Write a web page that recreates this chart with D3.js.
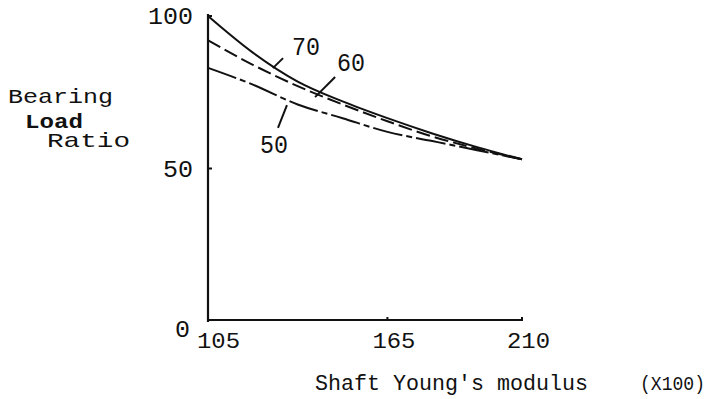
<!DOCTYPE html>
<html lang="en">
<head>
    <meta charset="UTF-8">
    <title>Bearing Load Ratio</title>
    <style>
        body { margin: 0; background: #fff; }
        svg text { font-family: "Liberation Mono", "DejaVu Sans Mono", monospace; fill: #111; }
    </style>
</head>
<body>
    <svg id="chart" width="716" height="399"></svg>

    <script src="https://d3js.org/d3.v7.min.js"></script>
    <script>
        // x values (Shaft Young's modulus, x100)
        const modulus = [105, 120, 135, 150, 165, 180, 195, 210];
        // bearing load ratio for each curve
        const ratio70 = [100, 88, 78.5, 72, 66.5, 61.5, 57, 53];
        const ratio60 = [92, 84, 77, 71, 65.5, 60.5, 56.5, 53];
        const ratio50 = [83, 77.5, 71, 66.5, 62, 59, 56, 53];

        const xTicks = [105, 165, 210];
        const yTicks = [0, 50, 100];

        const curveLabels = ["70", "60", "50"];
        // label anchor and leader line, in data units
        const labelPos = [[137.8, 90.2], [152.8, 84.9], [127.1, 58]];
        const leaderFrom = [[130.1, 86.2], [147.5, 80], [131.4, 70.8]];
        const leaderTo = [[126.7, 82.9], [140.8, 73.4], [128.4, 63.3]];

        const svg = d3.select("#chart");

        const x = d3.scaleLinear().domain([105, 210]).range([208, 522]);
        const y = d3.scaleLinear().domain([0, 100]).range([321, 16]);

        // axes
        svg.append("line")
            .attr("x1", x(105)).attr("x2", x(105))
            .attr("y1", y(100) - 2).attr("y2", y(0) + 1)
            .attr("stroke", "#111").attr("stroke-width", 2.2);

        svg.append("line")
            .attr("x1", x(105) - 1).attr("x2", x(210) + 1)
            .attr("y1", y(0) - 1).attr("y2", y(0) - 1)
            .attr("stroke", "#111").attr("stroke-width", 2.2);

        // y tick stubs and labels
        svg.selectAll(".ytick")
            .data(yTicks.filter(d => d > 0))
            .enter()
            .append("line")
            .attr("x1", x(105)).attr("x2", x(105) + 4)
            .attr("y1", d => y(d)).attr("y2", d => y(d))
            .attr("stroke", "#111").attr("stroke-width", 2);

        svg.selectAll(".ylab")
            .data(yTicks)
            .enter()
            .append("text")
            .attr("text-anchor", "end")
            .attr("x", d => d === 0 ? x(105) - 18 : x(105) - 15)
            .attr("y", d => d === 0 ? y(0) + 16 : y(d) + 8)
            .attr("font-size", 23)
            .attr("textLength", d => String(d).length * 15)
            .attr("lengthAdjust", "spacingAndGlyphs")
            .text(d => d);

        // x tick stubs and labels
        svg.selectAll(".xtick")
            .data(xTicks.slice(1))
            .enter()
            .append("line")
            .attr("x1", d => x(d)).attr("x2", d => x(d))
            .attr("y1", y(0) - 1).attr("y2", y(0) - 4)
            .attr("stroke", "#111").attr("stroke-width", 2);

        svg.selectAll(".xlab")
            .data(xTicks)
            .enter()
            .append("text")
            .attr("x", d => x(d) - 11 + (d === 105 ? 0 : -4))
            .attr("y", 348)
            .attr("font-size", 22)
            .attr("textLength", 43)
            .attr("lengthAdjust", "spacingAndGlyphs")
            .text(d => d);

        // axis titles
        svg.append("text")
            .attr("x", 315).attr("y", 390)
            .attr("font-size", 22)
            .attr("textLength", 273)
            .attr("lengthAdjust", "spacingAndGlyphs")
            .text("Shaft Young's modulus");

        svg.append("text")
            .attr("x", 640).attr("y", 390)
            .attr("font-size", 21)
            .attr("textLength", 65)
            .attr("lengthAdjust", "spacingAndGlyphs")
            .text("(X100)");

        const yTitle = [
            { t: "Bearing", x: 8, y: 103, w: 105, bold: false },
            { t: "Load", x: 25, y: 128, w: 58, bold: true },
            { t: "Ratio", x: 47, y: 147, w: 83, bold: false }
        ];
        svg.selectAll(".ytitle")
            .data(yTitle)
            .enter()
            .append("text")
            .attr("x", d => d.x).attr("y", d => d.y)
            .attr("font-size", 21)
            .attr("font-weight", d => d.bold ? "bold" : "normal")
            .attr("textLength", d => d.w)
            .attr("lengthAdjust", "spacingAndGlyphs")
            .text(d => d.t);

        // curves
        const series = [
            { values: ratio70, dash: null },
            { values: ratio60, dash: "14,5" },
            { values: ratio50, dash: "30,4,6,4" }
        ];

        const line = d3.line()
            .x(d => x(d[0]))
            .y(d => y(d[1]))
            .curve(d3.curveMonotoneX);

        svg.selectAll(".curve")
            .data(series)
            .enter()
            .append("path")
            .attr("d", s => line(modulus.map((m, i) => [m, s.values[i]])))
            .attr("fill", "none")
            .attr("stroke", "#111")
            .attr("stroke-width", 2)
            .attr("stroke-dasharray", s => s.dash);

        // curve labels with leader lines
        svg.selectAll(".leader")
            .data(curveLabels)
            .enter()
            .append("line")
            .attr("x1", (d, i) => x(leaderFrom[i][0])).attr("y1", (d, i) => y(leaderFrom[i][1]))
            .attr("x2", (d, i) => x(leaderTo[i][0])).attr("y2", (d, i) => y(leaderTo[i][1]))
            .attr("stroke", "#111").attr("stroke-width", 2);

        svg.selectAll(".clab")
            .data(curveLabels)
            .enter()
            .append("text")
            .attr("text-anchor", "middle")
            .attr("x", (d, i) => x(labelPos[i][0]))
            .attr("y", (d, i) => y(labelPos[i][1]) + 9)
            .attr("font-size", 26)
            .attr("textLength", 28)
            .attr("lengthAdjust", "spacingAndGlyphs")
            .text(d => d);
    </script>
</body>
</html>
